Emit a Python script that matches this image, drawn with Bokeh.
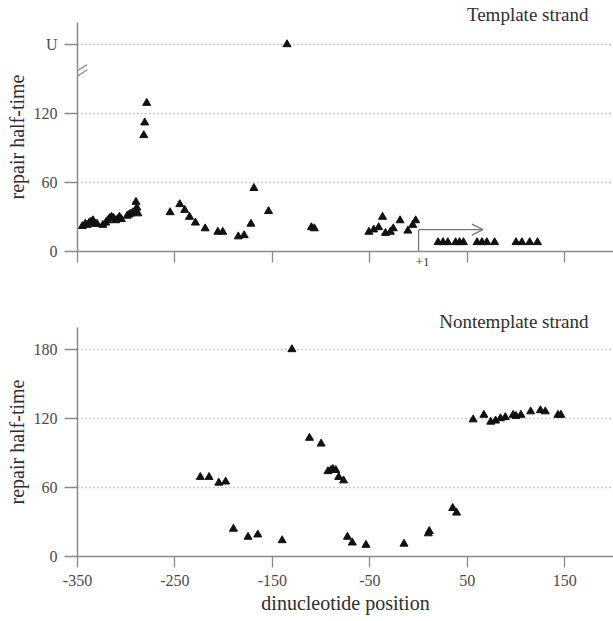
import math
from bokeh.plotting import figure
from bokeh.layouts import column
from bokeh.models import Range1d, FixedTicker, Label, Arrow, OpenHead, LinearAxis
from bokeh.embed import file_html
from bokeh.resources import INLINE

# ---------------- data ----------------
X_TICKS = [-350, -250, -150, -50, 50, 150]
X_TICK_LABELS = {-350: "-350", -250: "-250", -150: "-150", -50: "-50", 50: "50", 150: "150"}
Y_TICKS = [0, 60, 120, 180]
GRID_TICKS = [60, 120, 180]
TOP_Y_LABELS = {180: "U"}   # unrepaired sites plotted on the "U" line
TSS_TICK = 4                 # position of the "+1" mark
TSS_LABEL = {4: "+1"}

template_x = [-345, -342, -340, -338, -336, -334, -332, -330,
              -324, -321, -319, -317, -315, -313, -311, -309, -307, -305,
              -299, -297, -295, -293, -291, -290, -289, -288,
              -282, -281, -279,
              -255, -245, -240, -235, -229, -219, -206, -201, -185, -179, -172, -169, -154,
              -135,
              -110, -107,
              -51, -46, -41, -37, -34, -29, -26, -19, -11, -6, -3,
              20, 25, 30, 38, 42, 46, 60, 65, 70, 78, 100, 106, 114, 122]
template_y = [22, 24, 23, 25, 26, 27, 24, 24,
              23, 25, 27, 29, 30, 29, 27, 28, 30, 28,
              31, 32, 33, 34, 35, 43, 38, 33,
              101, 112, 129,
              34, 41, 36, 30, 25, 20, 17, 17, 13, 14, 24, 55, 35,
              180,
              21, 20,
              17, 19, 21, 30, 16, 17, 20, 27, 18, 23, 27,
              8, 8, 8, 8, 8, 8, 8, 8, 8, 8, 8, 8, 8, 8]

nontemplate_x = [-224, -215, -205, -198, -190, -175, -165, -140, -130, -112, -100,
                 -93, -90, -88, -85, -82, -77, -73, -68, -54, -15, 10, 11, 35, 39,
                 56, 67, 74, 79, 84, 89, 97, 100, 105, 115, 125, 130, 143, 146]
nontemplate_y = [69, 69, 64, 65, 24, 17, 19, 14, 180, 103, 98,
                 74, 75, 76, 75, 69, 66, 17, 12, 10, 11, 20, 22, 42, 38,
                 119, 123, 117, 118, 120, 121, 123, 122, 123, 126, 127, 126, 123, 123]

# transcription start arrow (+1) in template panel
tss_x = [0, 0, 66]
tss_y = [0, 19, 19]

FONT = "Liberation Serif"
AXIS_COLOR = "#8a8a8a"
TICK_LABEL_COLOR = "#4a4a4a"
TEXT_COLOR = "#2e2e2e"


def make_fig(height, border_top, border_bottom, title):
    p = figure(width=613, height=height, output_backend="svg", toolbar_location=None,
               x_range=Range1d(-350, 200), y_range=Range1d(0, 199),
               min_border_left=77, min_border_right=0,
               min_border_top=border_top, min_border_bottom=border_bottom,
               title=title)
    p.outline_line_color = None
    p.background_fill_color = "white"
    p.border_fill_color = "white"
    p.title.align = "right"
    p.title.vertical_align = "bottom"
    p.title.offset = 25
    p.title.text_font = FONT
    p.title.text_font_size = "19px"
    p.title.text_font_style = "normal"
    p.title.text_color = TEXT_COLOR
    p.xgrid.visible = False
    p.ygrid.ticker = FixedTicker(ticks=GRID_TICKS)
    p.ygrid.grid_line_color = "#8f8f8f"
    p.ygrid.grid_line_dash = "1 3"
    p.ygrid.grid_line_width = 1.5

    for ax in (p.xaxis[0], p.yaxis[0]):
        ax.axis_line_color = AXIS_COLOR
        ax.axis_line_width = 1.5
        ax.major_tick_line_color = AXIS_COLOR
        ax.major_tick_line_width = 1.3
        ax.major_tick_in = 0
        ax.minor_tick_line_color = None
        ax.major_label_text_font = FONT
        ax.major_label_text_font_size = "16px"
        ax.major_label_text_color = TICK_LABEL_COLOR
        ax.axis_label_text_font = FONT
        ax.axis_label_text_font_style = "normal"
        ax.axis_label_text_color = TEXT_COLOR

    p.xaxis.ticker = FixedTicker(ticks=X_TICKS)
    p.xaxis.major_label_overrides = X_TICK_LABELS
    p.xaxis.major_tick_out = 11
    p.xaxis.major_label_standoff = 7

    p.yaxis.ticker = FixedTicker(ticks=Y_TICKS)
    p.yaxis.major_tick_out = 13
    p.yaxis.major_label_standoff = 7
    p.yaxis.axis_label = "repair half-time"
    p.yaxis.axis_label_text_font_size = "20px"
    p.yaxis.axis_label_standoff = 3
    return p


# ---------------- template strand ----------------
p1 = make_fig(300, 22, 49, "Template strand")
p1.title.standoff = -4
p1.yaxis.major_label_overrides = TOP_Y_LABELS
p1.xaxis.major_label_overrides = {t: "" for t in X_TICKS}
p1.xaxis.major_label_standoff = 0
p1.scatter(template_x, template_y, marker="triangle", size=8, color="#111111")
p1.line(tss_x[:2], tss_y[:2], line_color="#777777", line_width=1.3)
p1.add_layout(Arrow(end=OpenHead(size=11, line_color="#777777", line_width=1.3),
                    x_start=tss_x[1], y_start=tss_y[1], x_end=tss_x[2], y_end=tss_y[2],
                    line_color="#777777", line_width=1.3))
# "+1" mark under the transcription start
tss_axis = LinearAxis(ticker=FixedTicker(ticks=[TSS_TICK]), major_label_overrides=TSS_LABEL,
                      axis_line_color=None, major_tick_line_color=None,
                      minor_tick_line_color=None, major_tick_in=0, major_tick_out=0,
                      major_label_standoff=-5, major_label_text_font=FONT,
                      major_label_text_font_size="13px", major_label_text_color="#444444")
p1.add_layout(tss_axis, "below")
# axis break marks
for off in (0, 4.5):
    p1.add_layout(Arrow(end=None, x_start=-364, y_start=145 + off, x_end=-340, y_end=158 + off,
                        line_color=AXIS_COLOR, line_width=1.3))

# ---------------- nontemplate strand ----------------
p2 = make_fig(321, 27, 65, "Nontemplate strand")
p2.title.standoff = -8
p2.scatter(nontemplate_x, nontemplate_y, marker="triangle", size=8, color="#111111")
p2.xaxis.axis_label = "dinucleotide position"
p2.xaxis.axis_label_text_font_size = "20px"
p2.xaxis.axis_label_standoff = 3

layout = column(p1, p2, spacing=0)
open("out.html", "w").write(file_html(layout, INLINE))
